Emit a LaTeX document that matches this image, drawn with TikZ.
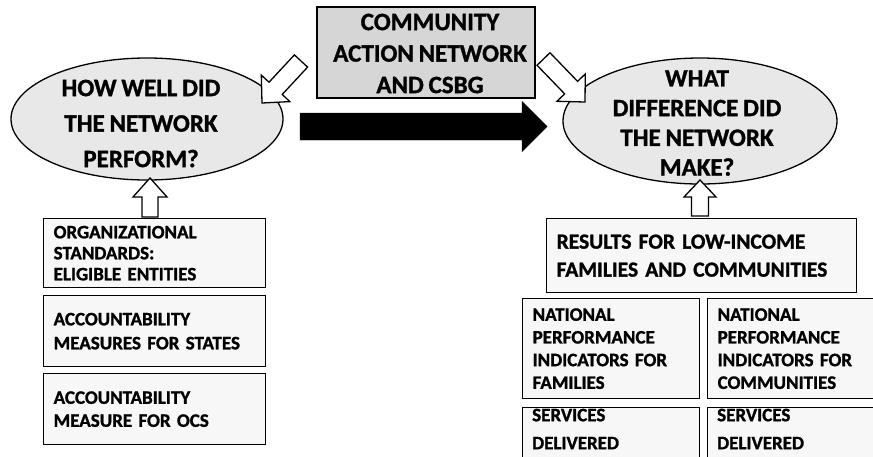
\documentclass[tikz,border=0pt]{standalone}
\usepackage{fontspec}
\setmainfont{Carlito}[BoldFeatures={FakeBold=1.2}, WordSpace=0.85]
\usetikzlibrary{calc,shapes.geometric}
\definecolor{ellfill}{gray}{0.91}
\definecolor{topfill}{gray}{0.84}
\definecolor{boxfill}{gray}{0.97}
\tikzset{
  outl/.style={draw=black, line width=1.3pt},
  infobox/.style={outl, fill=boxfill, anchor=north west, align=left,
    inner xsep=10pt, inner ysep=0pt, font=\bfseries\fontsize{19}{23}\selectfont},
  oval/.style={outl, fill=ellfill, ellipse, inner sep=0pt},
  ovaltext/.style={align=center, inner sep=0pt, font=\bfseries\fontsize{25}{35.5}\selectfont},
  hollow/.style={outl, fill=white, line join=miter},
}
% #1 style, #2 tail, #3 tip, #4 half shaft, #5 half head, #6 head length
\newcommand{\blockarrow}[6]{%
  \path ($(#3)!#6!(#2)$) coordinate (ba-base);
  \draw[#1] ($(#2)!#4!90:(#3)$) -- ($(ba-base)!#4!90:(#3)$) -- ($(ba-base)!#5!90:(#3)$)
    -- (#3) -- ($(ba-base)!#5!-90:(#3)$) -- ($(ba-base)!#4!-90:(#3)$)
    -- ($(#2)!#4!-90:(#3)$) -- cycle;}
\begin{document}
\begin{tikzpicture}[x=1pt, y=-1pt]
\useasboundingbox[fill=white] (0,0) rectangle (873,456);
\clip (0,0) rectangle (873,456);

% top box
\node[outl, fill=topfill, minimum width=218pt, minimum height=91pt, inner sep=0pt] (top) at (426,52.5) {};
\node[ovaltext, font=\bfseries\fontsize{25}{31.5}\selectfont] (toptext) at (430,53.5) {COMMUNITY\\ACTION NETWORK\\AND CSBG};

% ellipses
\node[oval, minimum width=272pt, minimum height=122pt] (left) at (147,119) {};
\node[ovaltext] (lefttext) at (141,123.5) {HOW WELL DID\\THE NETWORK\\PERFORM?};
\node[oval, minimum width=274pt, minimum height=126pt] (right) at (700,121) {};
\node[ovaltext, font=\bfseries\fontsize{25}{29.7}\selectfont] (righttext) at (697,123) {WHAT\\DIFFERENCE DID\\THE NETWORK\\MAKE?};

% hollow arrows from top box
\coordinate (la-tail) at (301,61);
\coordinate (la-tip) at (262,103);
\coordinate (ra-tail) at (543.5,59);
\coordinate (ra-tip) at (585,102);
\blockarrow{hollow}{la-tail}{la-tip}{9pt}{19.5pt}{20pt}
\blockarrow{hollow}{ra-tail}{ra-tip}{9pt}{19.7pt}{20pt}

% black arrow
\coordinate (ba-tail) at (300,126.5);
\coordinate (ba-tip) at (547,126.5);
\blockarrow{fill=black, draw=black}{ba-tail}{ba-tip}{13.5pt}{25pt}{25pt}

% left column boxes
\node[infobox, text width=202pt, minimum height=69pt, font=\bfseries\fontsize{19}{21}\selectfont] (org) at (43,218) {ORGANIZATIONAL\\STANDARDS:\\ELIGIBLE ENTITIES};
\node[infobox, text width=202pt, minimum height=71pt, font=\bfseries\fontsize{19}{24}\selectfont] (accst) at (43,295) {ACCOUNTABILITY\\MEASURES FOR STATES};
\node[infobox, text width=202pt, minimum height=71pt] (accocs) at (43,373) {ACCOUNTABILITY\\MEASURE FOR OCS};

% right column boxes
\node[infobox, text width=290pt, minimum height=74pt, font=\bfseries\fontsize{21.5}{28}\selectfont] (results) at (546,218) {RESULTS FOR LOW-INCOME\\FAMILIES AND COMMUNITIES};
\node[infobox, text width=157pt, minimum height=100pt, font=\bfseries\fontsize{19}{22.7}\selectfont] (npifam) at (522,298) {NATIONAL\\PERFORMANCE\\INDICATORS FOR\\FAMILIES};
\node[infobox, text width=148pt, minimum height=100pt, font=\bfseries\fontsize{19}{22.7}\selectfont] (npicom) at (707,298) {NATIONAL\\PERFORMANCE\\INDICATORS FOR\\COMMUNITIES};
\node[infobox, text width=157pt, minimum height=60pt] (svcfam) at (522,407) {};
\node[infobox, text width=148pt, minimum height=60pt] (svccom) at (707,407) {};
\node[anchor=west, align=left, inner sep=0pt, font=\bfseries\fontsize{19}{28}\selectfont] (svcfamtext) at ($(svcfam.north west)+(10,22)$) {SERVICES\\DELIVERED};
\node[anchor=west, align=left, inner sep=0pt, font=\bfseries\fontsize{19}{28}\selectfont] (svccomtext) at ($(svccom.north west)+(10,22)$) {SERVICES\\DELIVERED};

% up arrows
\coordinate (lu-tail) at (150,217);
\coordinate (lu-tip) at (150,178);
\coordinate (ru-tail) at (700,216);
\coordinate (ru-tip) at (700,180);
\blockarrow{hollow}{lu-tail}{lu-tip}{8pt}{17pt}{19pt}
\blockarrow{hollow}{ru-tail}{ru-tip}{8.5pt}{16pt}{17pt}
\end{tikzpicture}
\end{document}
